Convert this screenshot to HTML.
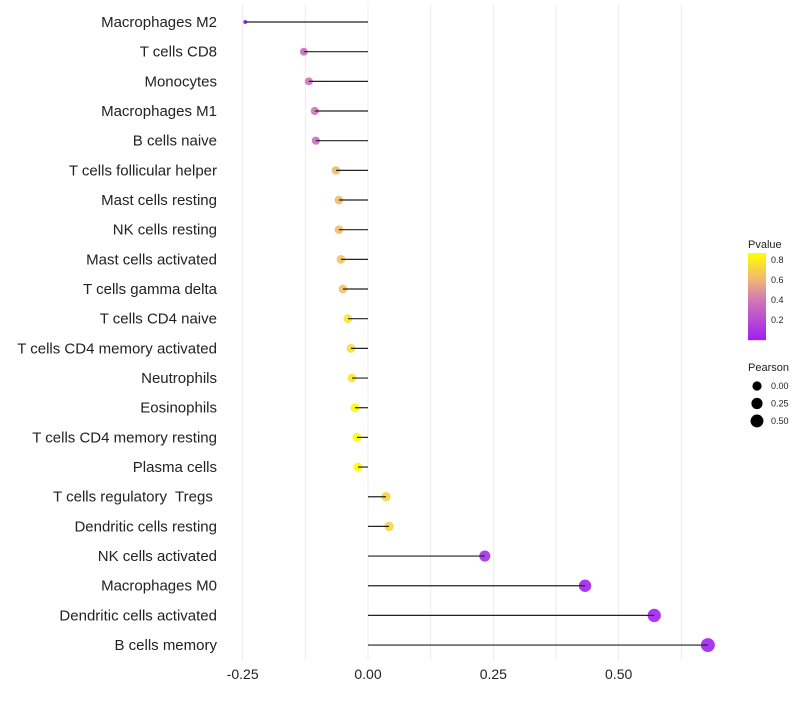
<!DOCTYPE html>
<html><head><meta charset="utf-8"><style>
body{margin:0;background:#fff;font-family:"Liberation Sans",sans-serif}
text{white-space:pre}
</style></head><body>
<svg id="chart" width="800" height="700" xmlns="http://www.w3.org/2000/svg"></svg>
<script>
const categories=["Macrophages M2","T cells CD8","Monocytes","Macrophages M1","B cells naive","T cells follicular helper","Mast cells resting","NK cells resting","Mast cells activated","T cells gamma delta","T cells CD4 naive","T cells CD4 memory activated","Neutrophils","Eosinophils","T cells CD4 memory resting","Plasma cells","T cells regulatory  Tregs ","Dendritic cells resting","NK cells activated","Macrophages M0","Dendritic cells activated","B cells memory"];
const pearson=[-0.245,-0.128,-0.118,-0.106,-0.104,-0.064,-0.058,-0.058,-0.054,-0.05,-0.04,-0.034,-0.032,-0.026,-0.022,-0.02,0.036,0.042,0.233,0.433,0.571,0.678];
const pvalue=[0.0,0.35,0.38,0.38,0.35,0.62,0.62,0.62,0.65,0.65,0.78,0.75,0.78,0.85,0.85,0.86,0.72,0.72,0.05,0.02,0.02,0.01];
const xTicks=[-0.25,0,0.25,0.5];
const xTickLabels=["-0.25","0.00","0.25","0.50"];
const pLegendTicks=[0.2,0.4,0.6,0.8];
const sizeLegend=[0,0.25,0.5];
const NS="http://www.w3.org/2000/svg";
const svg=document.getElementById('chart');
const x=v=>368+v*501.3;
const y=i=>22+i*29.67;
const r=v=>v<-0.2?2:Math.sqrt(Math.max(1,21+41*v));
function col(p){const stops=[[0,[160,32,240]],[0.4,[210,120,180]],[0.6,[240,180,120]],[0.87,[255,255,0]]];
 for(let k=1;k<stops.length;k++){if(p<=stops[k][0]||k==stops.length-1){const a=stops[k-1],b=stops[k];let t=(p-a[0])/(b[0]-a[0]);t=Math.max(0,Math.min(1,t));return `rgb(${a[1].map((c,j)=>Math.round(c+(b[1][j]-c)*t)).join(',')})`;}}}
function el(t,a,txt){const e=document.createElementNS(NS,t);for(const k in a)e.setAttribute(k,a[k]);if(txt!==undefined)e.textContent=txt;svg.appendChild(e);return e;}
for(let v=-0.25;v<=0.626;v+=0.125){const g=el('line',{x1:x(v),x2:x(v),y1:5,y2:660,stroke:'#ebebeb','stroke-width':1});

}
xTicks.forEach((v,i)=>{const t=el('text',{x:x(v),y:679,'text-anchor':'middle','font-size':14,fill:'#222'},xTickLabels[i]);

});
categories.forEach((c,i)=>{
 const t=el('text',{x:217,y:y(i)+5,'text-anchor':'end','font-size':15,fill:'#222'},c);
 
 
 const cc=el('circle',{cx:x(pearson[i]),cy:y(i),r:r(pearson[i]),fill:col(pvalue[i]),'fill-opacity':0.9});
 
 
 const l=el('line',{x1:x(pearson[i]),x2:x(0),y1:y(i),y2:y(i),stroke:'#222','stroke-width':1.2});
 
 
});
const t1=el('text',{x:748,y:248,'font-size':11,fill:'#222'},'Pvalue');


for(let k=0;k<87;k++){const p=(86-k)/86*0.87;const rr=el('rect',{x:748,y:253+k,width:18,height:1.2,fill:col(p)});

}
pLegendTicks.forEach(p=>{const yy=340-p*100;const t=el('text',{x:771,y:yy+3,'font-size':9,fill:'#222'},p.toFixed(1));

});
const t2=el('text',{x:748,y:371,'font-size':11,fill:'#222'},'Pearson');


sizeLegend.forEach((v,i)=>{const yy=386+i*17.5;const c=el('circle',{cx:757,cy:yy,r:r(v),fill:'#000'});


const t=el('text',{x:771,y:yy+3,'font-size':9,fill:'#222'},v.toFixed(2));

});
</script>
</body></html>
